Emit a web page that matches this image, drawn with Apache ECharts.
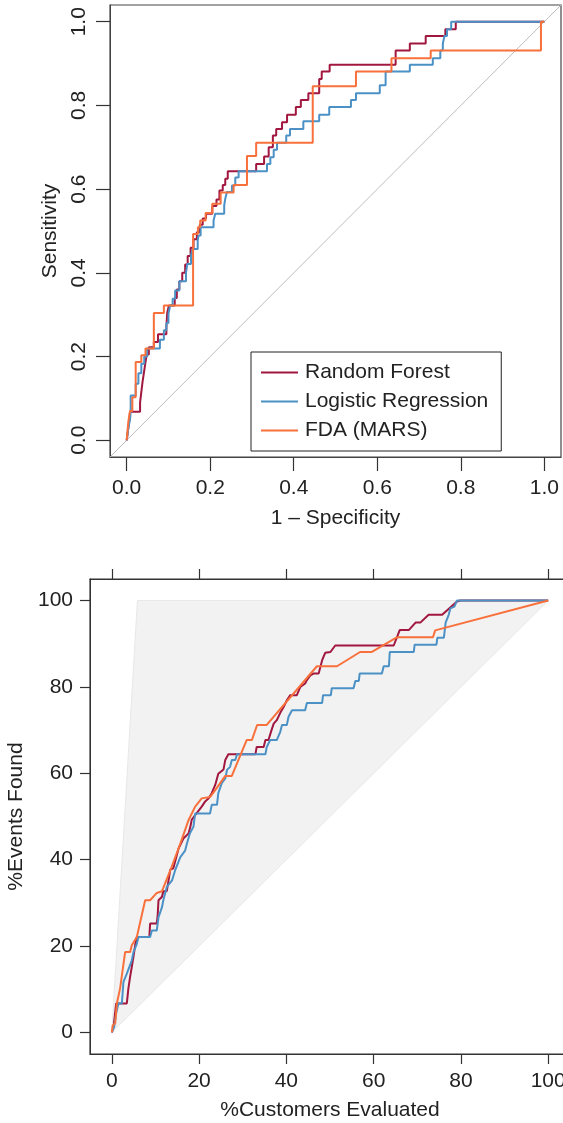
<!DOCTYPE html>
<html><head><meta charset="utf-8">
<script src="https://cdn.jsdelivr.net/npm/echarts@6/dist/echarts.min.js"></script>
<style>html,body{margin:0;padding:0;background:#fff}#c{width:563px;height:1123px}</style>
</head><body><div id="c"></div><script>
const seriesNames = ['Random Forest', 'Logistic Regression', 'FDA (MARS)'];
const seriesColors = ['#A1173F', '#4B91C6', '#F8703B'];
const rocTicks = [0, 0.2, 0.4, 0.6, 0.8, 1.0];
const liftTicks = [0, 20, 40, 60, 80, 100];

// ROC curves: [1 - specificity, sensitivity]
const rocRF = [[0,0],[0.003,0.023],[0.006,0.045],[0.008,0.068],[0.032,0.068],[0.032,0.09],[0.035,0.09],[0.035,0.115],[0.038,0.115],[0.038,0.14],[0.041,0.14],[0.041,0.16],[0.044,0.16],[0.044,0.18],[0.048,0.18],[0.048,0.205],[0.053,0.205],[0.053,0.222],[0.065,0.222],[0.065,0.235],[0.075,0.235],[0.075,0.253],[0.095,0.253],[0.095,0.27],[0.097,0.27],[0.097,0.304],[0.101,0.304],[0.101,0.322],[0.115,0.322],[0.115,0.34],[0.12,0.34],[0.12,0.36],[0.126,0.36],[0.126,0.38],[0.133,0.38],[0.133,0.40],[0.14,0.40],[0.14,0.42],[0.146,0.42],[0.146,0.44],[0.153,0.44],[0.153,0.46],[0.16,0.46],[0.16,0.48],[0.168,0.48],[0.168,0.497],[0.175,0.497],[0.175,0.515],[0.182,0.515],[0.182,0.53],[0.19,0.53],[0.19,0.541],[0.205,0.541],[0.205,0.56],[0.215,0.56],[0.215,0.575],[0.222,0.575],[0.222,0.597],[0.23,0.597],[0.23,0.61],[0.236,0.61],[0.236,0.625],[0.242,0.625],[0.242,0.643],[0.31,0.643],[0.31,0.66],[0.329,0.66],[0.329,0.678],[0.34,0.678],[0.34,0.70],[0.35,0.70],[0.35,0.728],[0.358,0.728],[0.358,0.744],[0.372,0.744],[0.372,0.76],[0.384,0.76],[0.384,0.778],[0.405,0.778],[0.405,0.796],[0.417,0.796],[0.417,0.813],[0.435,0.813],[0.435,0.829],[0.461,0.829],[0.461,0.863],[0.467,0.863],[0.467,0.881],[0.486,0.881],[0.486,0.897],[0.644,0.897],[0.644,0.931],[0.678,0.931],[0.678,0.948],[0.716,0.948],[0.716,0.966],[0.763,0.966],[0.763,0.982],[0.788,0.982],[0.788,1.0],[1,1]];
const rocLR = [[0,0],[0.004,0.03],[0.008,0.05],[0.0095,0.068],[0.0095,0.107],[0.0215,0.107],[0.0215,0.135],[0.028,0.135],[0.028,0.16],[0.035,0.16],[0.035,0.183],[0.042,0.183],[0.042,0.2],[0.049,0.2],[0.049,0.219],[0.0795,0.219],[0.0795,0.24],[0.089,0.24],[0.089,0.263],[0.095,0.263],[0.095,0.28],[0.1,0.28],[0.1,0.302],[0.104,0.302],[0.104,0.322],[0.11,0.322],[0.11,0.338],[0.116,0.338],[0.116,0.358],[0.126,0.358],[0.126,0.38],[0.142,0.38],[0.142,0.40],[0.145,0.40],[0.145,0.421],[0.154,0.421],[0.154,0.441],[0.158,0.441],[0.158,0.457],[0.17,0.457],[0.17,0.477],[0.172,0.477],[0.172,0.489],[0.177,0.489],[0.177,0.509],[0.208,0.509],[0.208,0.525],[0.212,0.525],[0.212,0.541],[0.2335,0.541],[0.2335,0.561],[0.236,0.561],[0.236,0.577],[0.24,0.577],[0.24,0.593],[0.252,0.593],[0.252,0.609],[0.26,0.609],[0.26,0.628],[0.268,0.628],[0.268,0.643],[0.336,0.643],[0.336,0.66],[0.344,0.66],[0.344,0.676],[0.352,0.676],[0.352,0.694],[0.36,0.694],[0.36,0.711],[0.382,0.711],[0.382,0.728],[0.391,0.728],[0.391,0.744],[0.423,0.744],[0.423,0.762],[0.461,0.762],[0.461,0.778],[0.485,0.778],[0.485,0.796],[0.537,0.796],[0.537,0.813],[0.549,0.813],[0.549,0.829],[0.606,0.829],[0.606,0.848],[0.62,0.848],[0.62,0.881],[0.678,0.881],[0.678,0.897],[0.733,0.897],[0.733,0.913],[0.751,0.913],[0.751,0.931],[0.757,0.931],[0.757,0.948],[0.761,0.948],[0.761,0.966],[0.767,0.966],[0.767,0.982],[0.777,0.982],[0.777,1.0],[1,1]];
const rocFDA = [[0,0],[0.004,0.045],[0.008,0.07],[0.0135,0.07],[0.0135,0.103],[0.0215,0.103],[0.0215,0.187],[0.035,0.187],[0.035,0.203],[0.045,0.203],[0.045,0.219],[0.065,0.219],[0.065,0.304],[0.089,0.304],[0.089,0.322],[0.159,0.322],[0.159,0.493],[0.1705,0.493],[0.1705,0.509],[0.176,0.509],[0.176,0.525],[0.189,0.525],[0.189,0.543],[0.205,0.543],[0.205,0.565],[0.225,0.565],[0.225,0.592],[0.256,0.592],[0.256,0.61],[0.288,0.61],[0.288,0.679],[0.31,0.679],[0.31,0.711],[0.4455,0.711],[0.4455,0.846],[0.549,0.846],[0.549,0.881],[0.634,0.881],[0.634,0.913],[0.728,0.913],[0.728,0.931],[0.992,0.931],[0.992,1.0],[1,1]];
const rocDiagonal = [[-0.04,-0.04],[1.04,1.04]];

// Lift curves: [%customers evaluated, %events found]
const liftRF = [[0,0],[0.4,1.3],[1.0,6.7],[3.44,6.7],[3.8,10.2],[4.2,12.9],[4.58,15.2],[4.96,17.5],[5.35,20.2],[5.73,22.1],[8.6,22.1],[8.78,25.2],[10.3,25.2],[10.5,27.0],[10.7,30.6],[11.5,31.4],[11.8,32.7],[12.6,32.7],[13.4,37.7],[14.1,38.0],[15.3,42.6],[16.4,44.9],[17.6,46.1],[18.0,47.6],[18.3,49.2],[19.1,50.3],[20.6,52.3],[21.4,53.5],[22.2,54.2],[22.9,55.4],[23.7,57.3],[24.4,59.9],[25.6,60.9],[26.0,63.1],[26.7,64.4],[32.9,64.4],[33.2,66.1],[34.8,66.1],[35.2,67.7],[35.9,67.7],[36.6,70.0],[37.1,71.5],[37.8,72.3],[38.6,74.0],[39.4,75.4],[40.1,76.9],[40.9,78.1],[42.4,78.1],[43.2,80.0],[44.3,80.8],[44.7,81.6],[45.5,82.7],[46.2,83.1],[47.4,83.1],[48.2,86.2],[48.9,87.9],[50.1,88.1],[51.2,89.6],[64.6,89.6],[66.0,93.2],[68.1,93.2],[69.6,94.9],[70.7,94.9],[72.6,96.7],[75.7,96.7],[79.1,99.8],[79.9,100],[100,100]];
const liftLR = [[0,0],[0.54,1.3],[1.0,4.4],[1.5,6.7],[2.3,6.7],[2.67,11.7],[3.44,13.6],[4.58,16.7],[4.96,18.6],[5.73,20.5],[6.1,22.1],[8.78,22.1],[9.17,23.6],[10.3,23.6],[10.7,26.7],[11.5,29.0],[11.8,30.6],[12.6,33.7],[13.8,35.2],[14.5,37.5],[15.7,40.6],[16.8,42.1],[17.2,43.7],[17.9,46.1],[18.7,47.6],[19.1,50.7],[22.5,50.7],[22.9,52.7],[24.1,52.7],[24.4,55.4],[25.2,57.7],[26.0,58.8],[26.4,60.8],[27.1,61.5],[27.5,63.1],[28.3,63.1],[28.7,64.4],[35.2,64.4],[35.5,66.1],[36.3,67.7],[37.8,67.7],[38.6,69.6],[39.0,71.2],[40.1,71.2],[40.5,73.1],[41.3,74.6],[44.3,74.6],[44.7,76.3],[48.2,76.3],[48.4,78.1],[50.2,78.1],[50.4,79.7],[55.4,79.7],[55.8,81.4],[56.6,81.4],[56.8,83.1],[61.9,83.1],[62.3,84.8],[63.5,84.8],[63.7,88.1],[69.2,88.1],[69.4,89.8],[74.4,89.8],[74.6,91.4],[76.1,91.4],[76.5,94.9],[77.2,96.7],[77.6,98.2],[78.5,98.6],[79.1,100],[100,100]];
const liftFDA = [[0,0],[0.2,1.6],[0.77,2.1],[1.15,6.7],[1.9,10.2],[3.05,18.6],[4.2,18.6],[4.58,20.2],[5.73,22.1],[7.64,30.6],[8.78,30.6],[10.3,32.3],[11.5,32.7],[13.4,37.5],[15.7,43.7],[17.6,49.2],[19.1,52.3],[20.6,54.2],[22.5,54.5],[23.7,56.1],[26.0,59.4],[27.5,59.4],[30.9,67.7],[32.1,67.7],[33.3,71.2],[35.5,71.2],[47.0,84.8],[51.6,84.8],[56.9,88.1],[59.6,88.1],[65.3,91.5],[73.6,91.5],[74.1,93.1],[100,100]];
// Region between the perfect model and random selection
const liftArea = [[0,0],[5.87,100],[100,100]];

const FONT = '"Liberation Sans", Arial, Helvetica, sans-serif';
const TXT = '#222';
const labelStyle = {fontSize: 21, fontFamily: FONT, color: TXT};

const chart = echarts.init(document.getElementById('c'), null, {renderer: 'canvas'});

function lineSeries(name, data, color, xi, yi) {
  return {name, type: 'line', data, xAxisIndex: xi, yAxisIndex: yi, symbol: 'none',
    lineStyle: {color, width: 2}, itemStyle: {color}, animation: false, z: 3};
}

const option = {
  animation: false,
  backgroundColor: '#fff',
  grid: [
    {left: 110, top: 5, width: 451, height: 452, show: true, borderColor: '#444', borderWidth: 1.2,
      backgroundColor: 'transparent', outerBoundsMode: 'none', containLabel: false},
    {left: 90, top: 579, width: 480, height: 475, show: true, borderColor: '#333', borderWidth: 1.2,
      backgroundColor: 'transparent', outerBoundsMode: 'none', containLabel: false}
  ],
  legend: {
    show: true, left: 251, top: 352, orient: 'vertical', data: seriesNames,
    icon: 'rect', itemWidth: 37, itemHeight: 2, itemGap: 8,
    padding: [10, 13, 10, 10], borderColor: '#222', borderWidth: 1,
    backgroundColor: '#fff', selectedMode: false,
    textStyle: {fontSize: 21, fontFamily: FONT, color: TXT, padding: [0, 0, 0, 2]}
  },
  xAxis: [
    {gridIndex: 0, type: 'value', min: -0.04, max: 1.04,
      axisLine: {show: true, onZero: false, lineStyle: {color: '#444'}},
      splitLine: {show: false},
      axisTick: {show: true, customValues: rocTicks, length: 14, lineStyle: {color: '#333', width: 1.2}},
      axisLabel: Object.assign({customValues: rocTicks, formatter: v => v.toFixed(1), margin: 21}, labelStyle),
      name: '1 – Specificity', nameLocation: 'middle', nameGap: 51, nameTextStyle: labelStyle},
    {gridIndex: 1, type: 'value', min: -5, max: 105, position: 'bottom',
      axisLine: {show: true, onZero: false, lineStyle: {color: '#333'}},
      splitLine: {show: false},
      axisTick: {show: true, customValues: liftTicks, length: 10, lineStyle: {color: '#333', width: 1.2}},
      axisLabel: Object.assign({customValues: liftTicks, margin: 17}, labelStyle),
      name: '%Customers Evaluated', nameLocation: 'middle', nameGap: 46, nameTextStyle: labelStyle},
    {gridIndex: 1, type: 'value', min: -5, max: 105, position: 'top',
      axisLine: {show: true, onZero: false, lineStyle: {color: '#333'}},
      splitLine: {show: false},
      axisTick: {show: true, customValues: liftTicks, length: 10, lineStyle: {color: '#333', width: 1.2}},
      axisLabel: {show: false}}
  ],
  yAxis: [
    {gridIndex: 0, type: 'value', min: -0.04, max: 1.04,
      axisLine: {show: true, onZero: false, lineStyle: {color: '#444'}},
      splitLine: {show: false},
      axisTick: {show: true, customValues: rocTicks, length: 14, lineStyle: {color: '#333', width: 1.2}},
      axisLabel: Object.assign({customValues: rocTicks, formatter: v => v.toFixed(1), margin: 20, rotate: 90}, labelStyle),
      name: 'Sensitivity', nameLocation: 'middle', nameGap: 48, nameTextStyle: labelStyle},
    {gridIndex: 1, type: 'value', min: -5, max: 105,
      axisLine: {show: true, onZero: false, lineStyle: {color: '#333'}},
      splitLine: {show: false},
      axisTick: {show: true, customValues: liftTicks, length: 10, lineStyle: {color: '#333', width: 1.2}},
      axisLabel: Object.assign({customValues: liftTicks, margin: 17}, labelStyle),
      name: '%Events Found', nameLocation: 'middle', nameGap: 59, nameTextStyle: labelStyle}
  ],
  series: [
    {type: 'line', data: rocDiagonal, xAxisIndex: 0, yAxisIndex: 0, symbol: 'none', silent: true,
      lineStyle: {color: '#bdbdbd', width: 1}, z: 1, animation: false},
    lineSeries(seriesNames[0], rocRF, seriesColors[0], 0, 0),
    lineSeries(seriesNames[1], rocLR, seriesColors[1], 0, 0),
    lineSeries(seriesNames[2], rocFDA, seriesColors[2], 0, 0),
    {type: 'custom', xAxisIndex: 1, yAxisIndex: 1, data: [[0, 0]], silent: true, z: 1, animation: false,
      renderItem: (params, api) => ({
        type: 'polygon',
        shape: {points: liftArea.map(p => api.coord(p))},
        style: {fill: '#f2f2f2', stroke: '#e8e8e8', lineWidth: 1}
      })},
    lineSeries(seriesNames[0], liftRF, seriesColors[0], 1, 1),
    lineSeries(seriesNames[1], liftLR, seriesColors[1], 1, 1),
    lineSeries(seriesNames[2], liftFDA, seriesColors[2], 1, 1)
  ]
};
chart.setOption(option);
</script></body></html>
